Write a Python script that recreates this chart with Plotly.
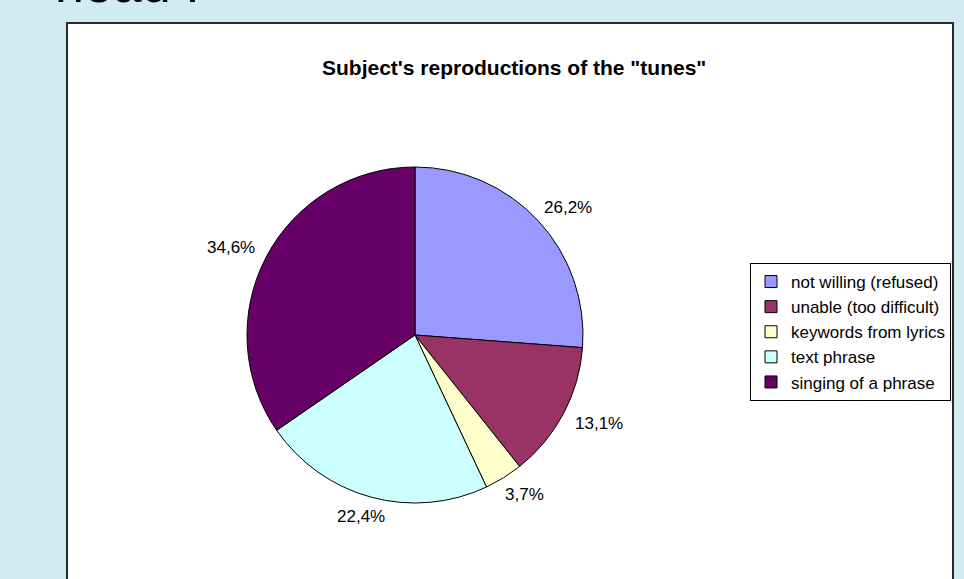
import math
import plotly.graph_objects as go

categories = ["not willing (refused)", "unable (too difficult)", "keywords from lyrics",
              "text phrase", "singing of a phrase"]
values = [26.2, 13.1, 3.7, 22.4, 34.6]
colors = ["#9999FF", "#993366", "#FFFFCC", "#CCFFFF", "#660066"]
labels_txt = [f"{v:.1f}%".replace(".", ",") for v in values]

W, H = 964, 579
cx, cy, R = 415, 335, 168
LABEL_RX, LABEL_RY = 1.24 * R, 1.12 * R
FONT = "Liberation Sans, Arial"

fig = go.Figure(go.Pie(
    labels=categories, values=values,
    textinfo="none", sort=False, direction="clockwise",
    rotation=0, marker=dict(colors=colors, line=dict(color="black", width=1)),
    domain=dict(x=[(cx - R) / W, (cx + R) / W], y=[(H - cy - R) / H, (H - cy + R) / H]),
    hoverinfo="skip",
))

# percentage labels placed along each slice's mid-angle (Excel style, outside the pie)
total = sum(values)
label_anns = []
cum = 0.0
for v, t in zip(values, labels_txt):
    theta = 2 * math.pi * (cum + v / 2) / total
    cum += v
    label_anns.append(dict(
        text=t, xref="paper", yref="paper", showarrow=False,
        x=(cx + LABEL_RX * math.sin(theta)) / W,
        y=(H - cy + LABEL_RY * math.cos(theta)) / H,
        xanchor="center", yanchor="middle",
        font=dict(size=17, family=FONT, color="black"),
    ))

fig.update_layout(
    width=W, height=H, margin=dict(l=0, r=0, t=0, b=0),
    paper_bgcolor="#d0ecf2",
    font=dict(family=FONT, size=17, color="black"),
    shapes=[dict(type="rect", xref="paper", yref="paper", layer="below",
                 x0=67 / W, x1=953 / W, y0=-0.05, y1=1 - 23 / H,
                 fillcolor="white", line=dict(color="#2a2a2a", width=2))],
    annotations=[
        dict(text="<b>Subject's reproductions of the \"tunes\"</b>", x=514 / W, y=1 - 54 / H,
             xref="paper", yref="paper", showarrow=False, font=dict(size=21)),
        dict(text="head I", x=53 / W, y=1 + 16 / H, xref="paper", yref="paper",
             xanchor="left", yanchor="middle", showarrow=False,
             font=dict(size=52, family=FONT)),
    ] + label_anns,
    legend=dict(x=750 / W, y=1 - 263 / H, xanchor="left", yanchor="top",
                bordercolor="black", borderwidth=1, bgcolor="white",
                font=dict(size=17), tracegroupgap=0),
)

fig.write_html("out.html")
